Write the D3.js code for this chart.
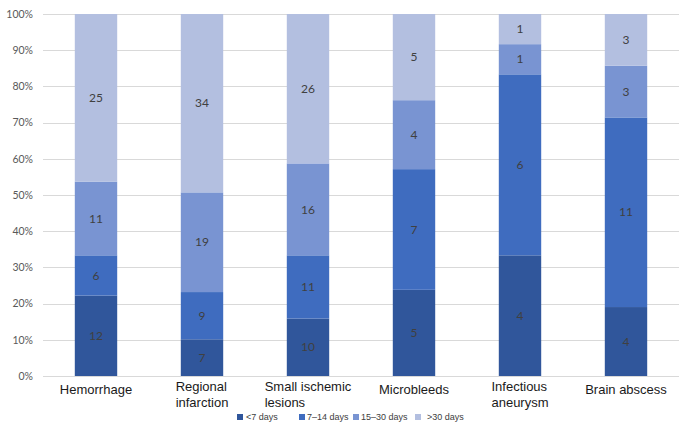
<!DOCTYPE html>
<html><head><meta charset="utf-8">
<script src="https://cdn.jsdelivr.net/npm/d3@7"></script>
<style>body{margin:0;background:#fff}</style>
</head><body>
<svg id="c" width="688" height="430"></svg>
<script>
const categories = [["Hemorrhage"],["Regional","infarction"],["Small ischemic","lesions"],["Microbleeds"],["Infectious","aneurysm"],["Brain abscess"]];
const seriesNames = ["<7 days","7\u201314 days","15\u201330 days",">30 days"];
const lt7 = [12,7,10,5,4,4];
const d7to14 = [6,9,11,7,6,11];
const d15to30 = [11,19,16,4,1,3];
const gt30 = [25,34,26,5,1,3];
const yTicks = [0,0.1,0.2,0.3,0.4,0.5,0.6,0.7,0.8,0.9,1];
const colors = ["#30569b","#3f6cbf","#7994d2","#b3bfe0"];

const svg = d3.select("#c");
const W = 688, H = 430;
const m = {l:43, r:9, t:14, b:54};
const x = d3.scaleBand().domain(d3.range(categories.length)).range([m.l, W-m.r]).paddingInner(0.6).paddingOuter(0.3);
const y = d3.scaleLinear().domain([0,1]).range([H-m.b, m.t]);

// grid
svg.append("g").selectAll("line").data(yTicks).join("line")
  .attr("x1", m.l).attr("x2", W-m.r)
  .attr("y1", d=>Math.round(y(d))+0.5).attr("y2", d=>Math.round(y(d))+0.5)
  .attr("stroke","#d9d9d9").attr("stroke-width",1);

const yAxis = d3.axisLeft(y).tickValues(yTicks).tickFormat(d3.format(".0%")).tickSize(0).tickPadding(10);
const ga = svg.append("g").attr("transform",`translate(${m.l},0)`).call(yAxis);
ga.select(".domain").remove();
ga.selectAll("text").attr("font-family","Lato, Liberation Sans, Arial, sans-serif").attr("font-size",10.5).attr("fill","#595959");

const seriesVals = [lt7, d7to14, d15to30, gt30];
const rows = categories.map((c,i)=>{
  const o = {i};
  seriesNames.forEach((s,k)=>o[s]=seriesVals[k][i]);
  return o;
});
const stack = d3.stack().keys(seriesNames).offset(d3.stackOffsetExpand);
const stacked = stack(rows);

const g = svg.append("g");
stacked.forEach((layer,k)=>{
  g.append("g").selectAll("rect").data(layer).join("rect")
    .attr("x", d=>x(d.data.i)).attr("width", x.bandwidth())
    .attr("y", d=>y(d[1])).attr("height", d=>y(d[0])-y(d[1]))
    .attr("fill", colors[k]);
});
stacked.forEach((layer,k)=>{
  g.append("g").selectAll("text").data(layer).join("text")
    .attr("x", d=>x(d.data.i)+x.bandwidth()/2)
    .attr("y", d=>(y(d[0])+y(d[1]))/2)
    .attr("dy","0.35em").attr("text-anchor","middle")
    .attr("font-family","Lato, Liberation Sans, Arial, sans-serif").attr("font-size",12)
    .attr("fill","#404040")
    .text(d=>d.data[layer.key]);
});

// category labels
const cl = svg.append("g");
categories.forEach((lines,i)=>{
  const cx = x(i)+x.bandwidth()/2;
  const t = cl.append("text").attr("font-family","Liberation Sans, Arial, sans-serif").attr("font-size",13).attr("fill","#1a1a1a");
  if(lines.length===1){
    t.attr("x",cx).attr("y",394).attr("text-anchor","middle").text(lines[0]);
  } else {
    const tmp = cl.append("text").attr("font-family","Liberation Sans, Arial, sans-serif").attr("font-size",13);
    let wmax = 0;
    lines.forEach(l=>{tmp.text(l); wmax=Math.max(wmax,tmp.node().getComputedTextLength());});
    tmp.remove();
    const x0 = cx - wmax/2;
    lines.forEach((l,j)=>{
      t.append("tspan").attr("x",x0).attr("y",391+j*16).text(l);
    });
  }
});

// legend
const legX = [237,299,353,415];
const legTX = [246,307,361,427];
const lg = svg.append("g");
seriesNames.forEach((s,k)=>{
  lg.append("rect").attr("x",legX[k]).attr("y",414).attr("width",6).attr("height",6).attr("fill",colors[k]);
  lg.append("text").attr("x",legTX[k]).attr("y",420).attr("font-family","Liberation Sans, Arial, sans-serif")
    .attr("font-size",9).attr("fill","#404040").text(s);
});
</script>
</body></html>
